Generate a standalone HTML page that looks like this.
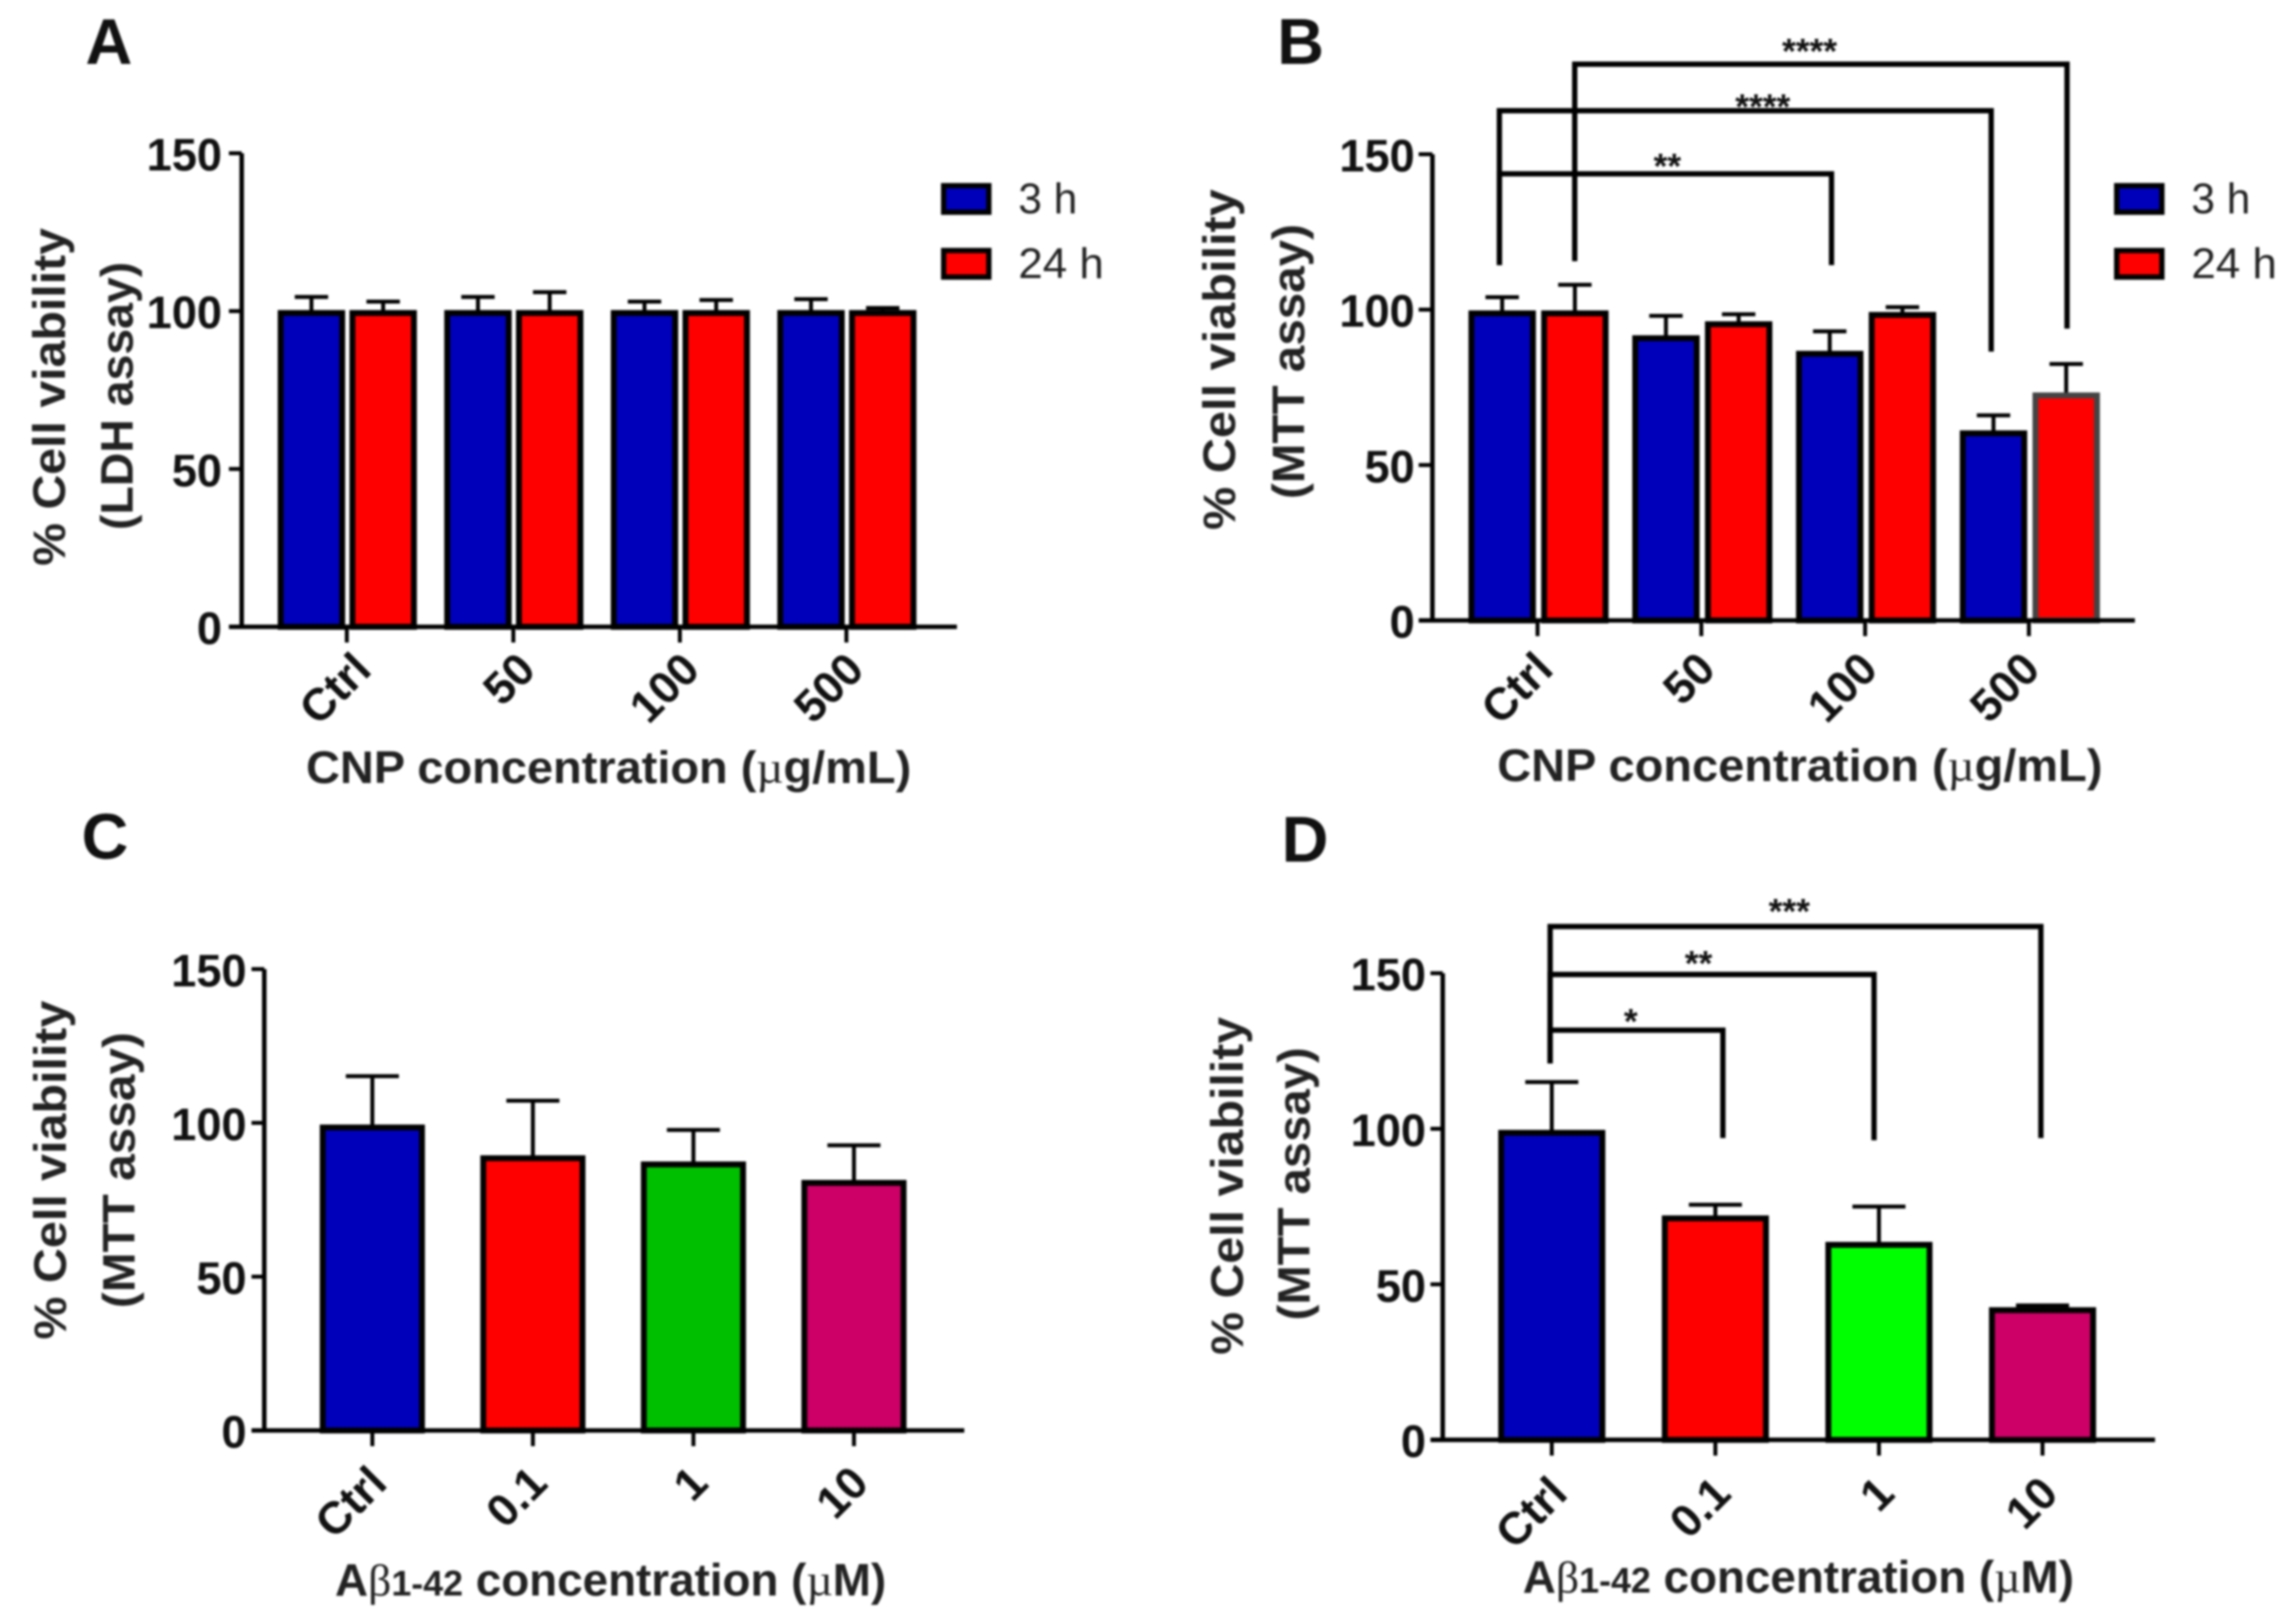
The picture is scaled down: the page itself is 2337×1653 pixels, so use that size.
<!DOCTYPE html>
<html lang="en">
<head>
<meta charset="utf-8">
<title>Cell viability charts</title>
<style>
html,body{margin:0;padding:0;background:#fff;width:2337px;height:1653px;overflow:hidden}
svg{display:block;filter:blur(1px)}
text{font-family:"Liberation Sans",Arial,sans-serif;fill:#111}
.tick{font-weight:700;font-size:46px}
.title{font-weight:700;font-size:46px;fill:#222}
.panel{font-weight:700;font-size:66px}
.legend{font-size:44px;fill:#222}
.star{font-size:36px;font-weight:700}
.greek{font-family:"Liberation Serif",serif;font-weight:400}
</style>
</head>
<body>
<svg id="chart" xmlns="http://www.w3.org/2000/svg" width="2337" height="1653" viewBox="0 0 2337 1653"></svg>
<script>
/* ---------- data ---------- */
const yTickValues = [0, 50, 100, 150];
const cnpCategories = ['Ctrl', '50', '100', '500'];
const abetaCategories = ['Ctrl', '0.1', '1', '10'];

const panelA3h = [99.4, 99.4, 99.4, 99.4];
const panelA3hErr = [5.1, 5.1, 3.6, 4.4];
const panelA24h = [99.4, 99.4, 99.4, 99.4];
const panelA24hErr = [3.6, 6.6, 4.1, 1.6];

const panelB3h = [98.8, 90.8, 85.8, 60.2];
const panelB3hErr = [5.2, 7.2, 7.2, 5.8];
const panelB24h = [98.8, 95.3, 98.3, 72.4];
const panelB24hErr = [9.2, 3.2, 2.5, 10.1];

const panelCValues = [98.5, 88.5, 86.5, 80.5];
const panelCErr = [16.7, 18.7, 11.2, 12.2];

const panelDValues = [98.7, 71.2, 62.7, 41.7];
const panelDErr = [16.3, 4.4, 12.3, 1.5];

const panelBBrackets = [
  {from: -0.233, to: 1.795, top: 143.7, fromEnd: 114.3, toEnd: 114.3, star: '**', labelAt: 0.793, labelValue: 142.2},
  {from: -0.233, to: 2.77, top: 164, fromEnd: 114.3, toEnd: 86.5, star: '****', labelAt: 1.375, labelValue: 161.4},
  {from: 0.227, to: 3.233, top: 179, fromEnd: 115.6, toEnd: 93.9, star: '****', labelAt: 1.661, labelValue: 179.2}
];
const panelDBrackets = [
  {from: -0.01, to: 1.046, top: 131.7, fromEnd: 121, toEnd: 97, star: '*', labelAt: 0.483, labelValue: 130.6},
  {from: -0.01, to: 1.97, top: 149.6, fromEnd: 121, toEnd: 96.3, star: '**', labelAt: 0.897, labelValue: 149.2},
  {from: -0.01, to: 2.99, top: 165, fromEnd: 121, toEnd: 97, star: '***', labelAt: 1.452, labelValue: 166}
];

/* ---------- helpers ---------- */
const NS = 'http://www.w3.org/2000/svg';
const root = document.getElementById('chart');
function mk(tag, attrs, parent, txt) {
  const el = document.createElementNS(NS, tag);
  for (const k in attrs) el.setAttribute(k, attrs[k]);
  if (txt !== undefined) el.textContent = txt;
  (parent || root).appendChild(el);
  return el;
}

function drawPanel(p) {
  const g = mk('g', {}, root);
  
  
  const x = i => p.x0 + i * p.dx;
  const y = v => p.y0 - v * (p.y0 - p.y150) / 150;

  /* panel letter */
  const letter = mk('text', {class: 'panel', x: p.letter[0], y: p.letter[1]}, g, p.id);
  
  

  /* bars and error bars */
  p.series.forEach(s => {
    s.values.forEach((v, i) => {
      const cx = x(i) + s.offset;
      const topV = v + s.err[i];
      const err = mk('path', {
        d: 'M' + cx + ' ' + y(v) + 'V' + y(topV) + 'M' + (cx - p.cap) + ' ' + y(topV) + 'H' + (cx + p.cap),
        fill: 'none', stroke: '#000', 'stroke-width': 4
      }, g);
      
      
      const fill = s.colors ? s.colors[i] : s.color;
      const edge = (s.edges && s.edges[i]) || '#000';
      const bar = mk('rect', {
        x: cx - p.halfBar, y: y(v), width: p.halfBar * 2, height: y(0) - y(v),
        fill: fill, stroke: edge, 'stroke-width': 6
      }, g);
      
      
    });
  });

  /* axes */
  const yAxis = mk('path', {
    d: 'M' + p.axisX + ' ' + y(150) + 'V' + y(0),
    fill: 'none', stroke: '#000', 'stroke-width': 4.6
  }, g);
  
  
  const xAxis = mk('path', {
    d: 'M' + p.tickLeft + ' ' + y(0) + 'H' + p.xEnd,
    fill: 'none', stroke: '#000', 'stroke-width': 4.6
  }, g);
  
  

  yTickValues.forEach(v => {
    const t = mk('path', {
      d: 'M' + p.tickLeft + ' ' + y(v) + 'H' + p.axisX,
      stroke: '#000', 'stroke-width': 4, fill: 'none'
    }, g);
    
    
    const lab = mk('text', {class: 'tick', x: p.axisX - p.labelGap, y: y(v) + 17.5, 'text-anchor': 'end'}, g, String(v));
    
    
  });

  p.categories.forEach((c, i) => {
    const t = mk('path', {
      d: 'M' + x(i) + ' ' + y(0) + 'v16',
      stroke: '#000', 'stroke-width': 4, fill: 'none'
    }, g);
    
    
    const lx = x(i) + p.labelDx - i * p.labelSpread;
    const ly = y(0) + p.labelDy;
    const lab = mk('text', {
      class: 'tick', x: lx, y: ly, 'text-anchor': 'end',
      transform: 'rotate(-45 ' + lx + ' ' + ly + ')'
    }, g, c);
    
    
  });

  /* axis titles */
  p.yTitles.forEach(t => {
    const el = mk('text', {
      class: 'title', 'text-anchor': 'middle', x: t.x, y: t.y,
      textLength: t.len, lengthAdjust: 'spacingAndGlyphs',
      transform: 'rotate(-90 ' + t.x + ' ' + t.y + ')'
    }, g, t.text);
    
    
  });
  const xt = mk('text', {
    class: 'title', 'text-anchor': 'middle', x: p.xTitle.x, y: p.xTitle.y,
    textLength: p.xTitle.len, lengthAdjust: 'spacingAndGlyphs'
  }, g);
  
  
  p.xTitle.parts.forEach(part => {
    const sp = mk('tspan', {}, xt, part[0]);
    if (part[1]) sp.setAttribute('class', part[1]);
    if (part[2]) sp.setAttribute('style', part[2]);
  });

  /* significance brackets */
  (p.brackets || []).forEach(b => {
    const br = mk('path', {
      d: 'M' + x(b.from) + ' ' + y(b.fromEnd) + 'V' + y(b.top) + 'H' + x(b.to) + 'V' + y(b.toEnd),
      fill: 'none', stroke: '#000', 'stroke-width': 5.4
    }, g);
    
    
    const st = mk('text', {class: 'star', x: x(b.labelAt), y: y(b.labelValue), 'text-anchor': 'middle'}, g, b.star);
    
    
  });

  /* legend */
  (p.legend || []).forEach(l => {
    const sw = mk('rect', {
      x: p.legendX, y: l.swatchY, width: 46, height: 27,
      fill: l.color, stroke: '#000', 'stroke-width': 5.4
    }, g);
    
    
    const lt = mk('text', {
      class: 'legend', x: p.legendX + 76, y: l.swatchY + 28,
      textLength: l.len, lengthAdjust: 'spacingAndGlyphs'
    }, g, l.text);
    
    
  });
}

const BLUE = '#0000bb', RED = '#ff0000', MAG = '#cc0066';
const cnpXParts = [['CNP concentration ('], ['\u00b5', 'greek'], ['g/mL)']];
const abetaXParts = [['A'], ['\u03b2', 'greek'], ['1-42', '', 'font-size:36px'], [' concentration ('], ['\u00b5', 'greek'], ['M)']];

drawPanel({
  id: 'A', letter: [87, 65], categories: cnpCategories,
  x0: 353, dx: 169.5, y0: 638, y150: 156, axisX: 246, tickLeft: 233, xEnd: 974,
  halfBar: 31.3, cap: 17, labelDx: 27, labelDy: 46, labelSpread: 2.3, labelGap: 20,
  series: [
    {name: '3h', offset: -36, values: panelA3h, err: panelA3hErr, color: BLUE},
    {name: '24h', offset: 37, values: panelA24h, err: panelA24hErr, color: RED}
  ],
  yTitles: [
    {text: '% Cell viability', x: 66, y: 404, len: 344},
    {text: '(LDH assay)', x: 135, y: 403, len: 273}
  ],
  xTitle: {parts: cnpXParts, x: 619.5, y: 797, len: 616},
  legendX: 960.5,
  legend: [
    {text: '3 h', swatchY: 189, color: BLUE, len: 60},
    {text: '24 h', swatchY: 255, color: RED, len: 87}
  ]
});

drawPanel({
  id: 'B', letter: [1300, 65], categories: cnpCategories,
  x0: 1565, dx: 166.7, y0: 631.5, y150: 157, axisX: 1458, tickLeft: 1444, xEnd: 2173,
  halfBar: 31.3, cap: 17, labelDx: 18, labelDy: 52, labelSpread: 1.5, labelGap: 18,
  series: [
    {name: '3h', offset: -36, values: panelB3h, err: panelB3hErr, color: BLUE},
    {name: '24h', offset: 38, values: panelB24h, err: panelB24hErr, color: RED, edges: ['#000', '#000', '#000', '#444']}
  ],
  yTitles: [
    {text: '% Cell viability', x: 1257, y: 366, len: 347},
    {text: '(MTT assay)', x: 1327.5, y: 368, len: 280}
  ],
  xTitle: {parts: cnpXParts, x: 1832, y: 795, len: 616},
  brackets: panelBBrackets,
  legendX: 2154.5,
  legend: [
    {text: '3 h', swatchY: 189, color: BLUE, len: 60},
    {text: '24 h', swatchY: 255, color: RED, len: 87}
  ]
});

drawPanel({
  id: 'C', letter: [83, 874], categories: abetaCategories,
  x0: 379, dx: 163.4, y0: 1456, y150: 986.4, axisX: 269, tickLeft: 256, xEnd: 981.5,
  halfBar: 50.5, cap: 27, labelDx: 17, labelDy: 56, labelSpread: 0, labelGap: 18,
  series: [
    {name: 'abeta', offset: 0, values: panelCValues, err: panelCErr, colors: [BLUE, RED, '#00bf00', MAG]}
  ],
  yTitles: [
    {text: '% Cell viability', x: 67, y: 1191, len: 345},
    {text: '(MTT assay)', x: 137, y: 1191, len: 281}
  ],
  xTitle: {parts: abetaXParts, x: 621.5, y: 1624, len: 561}
});

drawPanel({
  id: 'D', letter: [1304.5, 877], categories: abetaCategories,
  x0: 1579.5, dx: 166.5, y0: 1465.6, y150: 990.6, axisX: 1468.5, tickLeft: 1456, xEnd: 2193.5,
  halfBar: 51.5, cap: 27, labelDx: 18, labelDy: 57, labelSpread: 0, labelGap: 17,
  series: [
    {name: 'abeta', offset: 0, values: panelDValues, err: panelDErr, colors: [BLUE, RED, '#00ff00', MAG]}
  ],
  yTitles: [
    {text: '% Cell viability', x: 1265, y: 1207, len: 344},
    {text: '(MTT assay)', x: 1333, y: 1205, len: 278}
  ],
  xTitle: {parts: abetaXParts, x: 1830.5, y: 1621, len: 561},
  brackets: panelDBrackets
});
</script>
</body>
</html>
